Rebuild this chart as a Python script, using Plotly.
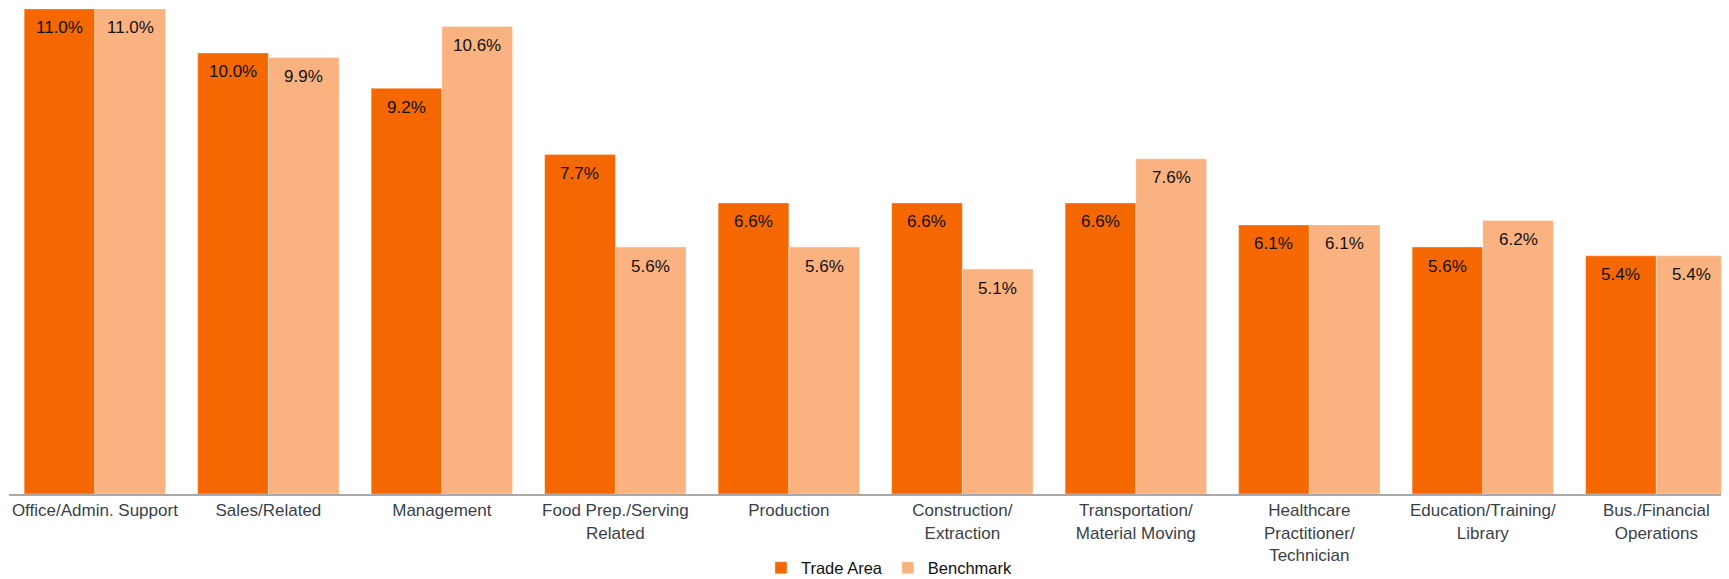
import plotly.graph_objects as go

categories = [
    "Office/Admin. Support",
    "Sales/Related",
    "Management",
    "Food Prep./Serving<br>Related",
    "Production",
    "Construction/<br>Extraction",
    "Transportation/<br>Material Moving",
    "Healthcare<br>Practitioner/<br>Technician",
    "Education/Training/<br>Library",
    "Bus./Financial<br>Operations",
]
trade_area = [11.0, 10.0, 9.2, 7.7, 6.6, 6.6, 6.6, 6.1, 5.6, 5.4]
benchmark = [11.0, 9.9, 10.6, 5.6, 5.6, 5.1, 7.6, 6.1, 6.2, 5.4]

TRADE_COLOR = "#F56700"
BENCH_COLOR = "#FAB281"
FONT = "Liberation Sans, Arial, sans-serif"

fig = go.Figure()
fig.add_trace(go.Bar(
    name="Trade Area", x=categories, y=trade_area,
    marker=dict(color=TRADE_COLOR, line=dict(color="rgba(255,255,255,0.35)", width=1)),
    hoverinfo="skip", cliponaxis=False,
))
fig.add_trace(go.Bar(
    name="Benchmark", x=categories, y=benchmark,
    marker=dict(color=BENCH_COLOR, line=dict(color="rgba(255,255,255,0.35)", width=1)),
    hoverinfo="skip", cliponaxis=False,
))

BAR_HALF_PX = 35.4
annotations = []
for cat, v in zip(categories, trade_area):
    annotations.append(dict(x=cat, y=v, xref="x", yref="y", text=f"{v:.1f}%",
                            showarrow=False, xshift=-BAR_HALF_PX, yshift=-19,
                            yanchor="middle", xanchor="center",
                            font=dict(family=FONT, size=17, color="#111111")))
for cat, v in zip(categories, benchmark):
    annotations.append(dict(x=cat, y=v, xref="x", yref="y", text=f"{v:.1f}%",
                            showarrow=False, xshift=BAR_HALF_PX, yshift=-19,
                            yanchor="middle", xanchor="center",
                            font=dict(family=FONT, size=17, color="#111111")))

fig.update_layout(
    width=1721, height=571,
    margin=dict(l=1, r=0, t=0, b=85, autoexpand=False),
    paper_bgcolor="white", plot_bgcolor="white",
    barmode="group", bargap=0.185, bargroupgap=0,
    font=dict(family=FONT, size=17, color="#3a3f47"),
    showlegend=True,
    legend=dict(orientation="h", x=0.5119, xanchor="center", y=-0.1523, yanchor="middle",
                font=dict(family=FONT, size=16.5, color="#111111"),
                traceorder="normal", itemclick=False, itemdoubleclick=False),
    annotations=annotations,
    xaxis=dict(range=[-0.495, 9.419], showgrid=False, showline=True, linecolor="#a8a8a8",
               linewidth=2, ticks="", tickangle=0, fixedrange=True, automargin=False,
               tickfont=dict(family=FONT, size=17, color="#3a3f47")),
    yaxis=dict(range=[0, 11.02], showgrid=False, showticklabels=False, zeroline=False,
               showline=False, fixedrange=True, automargin=False),
)

fig.write_html("out.html")
